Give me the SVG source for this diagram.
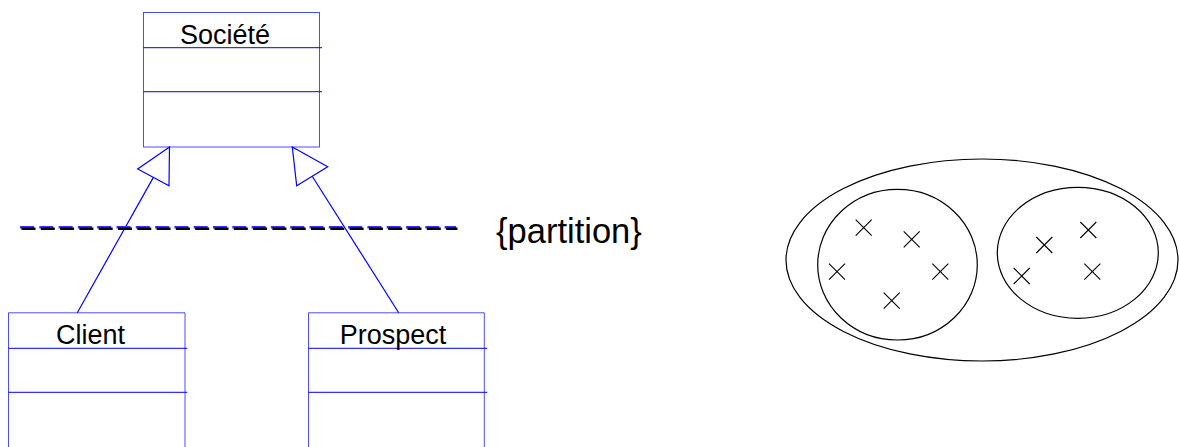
<svg xmlns="http://www.w3.org/2000/svg" width="1179" height="447" viewBox="0 0 1179 447">
<style>
.box{fill:none;stroke:#0000ff;stroke-width:1;stroke-opacity:0.7}
.sep{stroke:#0000ff;stroke-width:1}
.lbl{font-family:"Liberation Sans",Arial,sans-serif;font-size:27px;fill:#000}
.gen{fill:none;stroke:#0000ff;stroke-width:1.2}
.tri{fill:#fff;stroke:#0000ff;stroke-width:1.2;stroke-linejoin:miter}
.set{fill:none;stroke:#000;stroke-width:1.2}
.x{stroke:#000;stroke-width:1.1}
</style>
<rect width="1179" height="447" fill="#fff"/>
<g id="connectors">
<line class="gen" x1="77.3" y1="312.7" x2="153.4" y2="177.4"/>
<polygon class="tri" points="169.5,147 137.7,169 169,185.7"/>
<line class="gen" x1="312.2" y1="176.2" x2="398.7" y2="312.7"/>
<polygon class="tri" points="292.3,147 327.7,166.7 296.7,185.7"/>
</g>
<g id="partition-line">
<line x1="20" y1="227.3" x2="456" y2="227.3" stroke="#3333ff" stroke-width="2.6" stroke-dasharray="14 5.3"/>
<line x1="21.5" y1="228.8" x2="457.5" y2="228.8" stroke="#000" stroke-width="2.6" stroke-dasharray="14 5.3"/>
</g>
<g id="societe">
<rect class="box" x="143.5" y="12.5" width="176" height="134.5"/>
<line class="sep" x1="143.5" y1="47.7" x2="322" y2="47.7"/>
<line class="sep" x1="143.5" y1="91.7" x2="322" y2="91.7"/>
<text class="lbl" x="225" y="44" text-anchor="middle">Société</text>
</g>
<g id="client">
<path class="box" d="M8.5,447 V312.8 H185 V447"/>
<line class="sep" x1="8.5" y1="348.3" x2="187.3" y2="348.3"/>
<line class="sep" x1="8.5" y1="392.3" x2="187.3" y2="392.3"/>
<text class="lbl" x="90.5" y="344" text-anchor="middle">Client</text>
</g>
<g id="prospect">
<path class="box" d="M308.5,447 V312.8 H484.3 V447"/>
<line class="sep" x1="308.5" y1="348.3" x2="487.3" y2="348.3"/>
<line class="sep" x1="308.5" y1="392.3" x2="487.3" y2="392.3"/>
<text class="lbl" x="393" y="344" text-anchor="middle">Prospect</text>
</g>
<g id="partition-label">
<text x="496" y="242.5" font-family="Liberation Sans, Arial, sans-serif" font-size="34.5" fill="#000">{partition}</text>
</g>
<g id="sets">
<ellipse class="set" cx="982" cy="260" rx="196" ry="101"/>
<ellipse class="set" cx="897.5" cy="264.7" rx="79.8" ry="75.3"/>
<ellipse class="set" cx="1077.8" cy="252.8" rx="80.5" ry="65.5"/>
</g>
<g id="elements">
<path class="x" d="M855.7,219.7 l16,16 M871.7,219.7 l-16,16"/>
<path class="x" d="M903.7,231.3 l16,16 M919.7,231.3 l-16,16"/>
<path class="x" d="M829,263.7 l16,16 M845,263.7 l-16,16"/>
<path class="x" d="M932.3,263.7 l16,16 M948.3,263.7 l-16,16"/>
<path class="x" d="M883.7,292.7 l16,16 M899.7,292.7 l-16,16"/>
<path class="x" d="M1036.3,237 l16,16 M1052.3,237 l-16,16"/>
<path class="x" d="M1080.3,222 l16,16 M1096.3,222 l-16,16"/>
<path class="x" d="M1013.7,268 l16,16 M1029.7,268 l-16,16"/>
<path class="x" d="M1084.3,263.7 l16,16 M1100.3,263.7 l-16,16"/>
</g>
</svg>
